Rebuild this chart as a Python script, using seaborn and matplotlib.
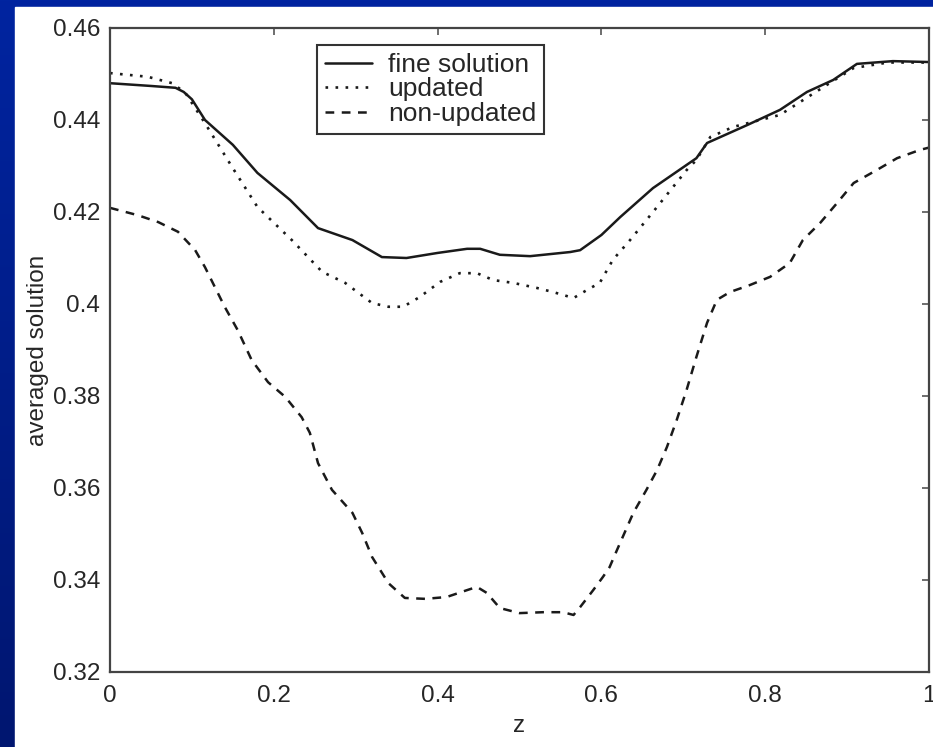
import numpy as np
import pandas as pd
import matplotlib
matplotlib.use('Agg')
import matplotlib.pyplot as plt
from matplotlib.patches import Rectangle
import seaborn as sns

# fine solution (solid)
z_fine = [0, 0.05, 0.08, 0.09, 0.1, 0.116, 0.15, 0.18, 0.22, 0.254, 0.296, 0.332,
          0.362, 0.40, 0.436, 0.452, 0.476, 0.513, 0.562, 0.574, 0.60, 0.623, 0.663,
          0.716, 0.729, 0.778, 0.818, 0.851, 0.883, 0.912, 0.956, 1.0]
fine = [0.448, 0.4474, 0.447, 0.4461, 0.4445, 0.440, 0.4346, 0.4285, 0.4226, 0.4165,
        0.4139, 0.4102, 0.410, 0.4111, 0.412, 0.412, 0.4107, 0.4104, 0.4113, 0.4117,
        0.415, 0.4189, 0.4252, 0.4317, 0.435, 0.4389, 0.4422, 0.4461, 0.4487, 0.4522,
        0.4528, 0.4526]

# updated (dotted)
z_upd = [0, 0.046, 0.076, 0.092, 0.116, 0.149, 0.18, 0.222, 0.259, 0.287, 0.32, 0.34,
         0.358, 0.378, 0.403, 0.427, 0.448, 0.468, 0.492, 0.521, 0.541, 0.566, 0.582,
         0.598, 0.614, 0.635, 0.663, 0.704, 0.716, 0.733, 0.761, 0.785, 0.818, 0.846,
         0.875, 0.908, 0.95, 1.0]
updated = [0.4502, 0.4494, 0.448, 0.4459, 0.4393, 0.4298, 0.4211, 0.4139, 0.407, 0.4046,
           0.4002, 0.3994, 0.3994, 0.4015, 0.4048, 0.4067, 0.4067, 0.4052, 0.4046, 0.4035,
           0.4026, 0.4013, 0.4030, 0.4046, 0.4096, 0.4139, 0.420, 0.4291, 0.4313, 0.4363,
           0.4385, 0.4396, 0.4411, 0.4443, 0.4476, 0.4513, 0.4525, 0.4525]

# non-updated (dashed)
z_non = [0, 0.034, 0.059, 0.083, 0.104, 0.116, 0.128, 0.14, 0.156, 0.173, 0.193, 0.214,
         0.234, 0.244, 0.254, 0.271, 0.296, 0.308, 0.32, 0.34, 0.36, 0.385, 0.411, 0.436,
         0.448, 0.46, 0.476, 0.5, 0.529, 0.553, 0.566, 0.574, 0.59, 0.602, 0.61, 0.619,
         0.639, 0.655, 0.668, 0.68, 0.692, 0.704, 0.716, 0.729, 0.741, 0.757, 0.781,
         0.806, 0.83, 0.846, 0.867, 0.888, 0.908, 0.936, 0.961, 0.989, 1.0]
non_updated = [0.4209, 0.4193, 0.4178, 0.4157, 0.4117, 0.408, 0.4037, 0.3994, 0.3943,
               0.3878, 0.383, 0.3798, 0.3754, 0.372, 0.3654, 0.3596, 0.3546, 0.3502,
               0.345, 0.3393, 0.3361, 0.3359, 0.3363, 0.3378, 0.3385, 0.3372, 0.3339,
               0.3328, 0.333, 0.333, 0.3324, 0.3341, 0.3378, 0.3407, 0.3428, 0.3465,
               0.3546, 0.3596, 0.3639, 0.3689, 0.3748, 0.3813, 0.3885, 0.3959, 0.4009,
               0.4026, 0.4041, 0.4059, 0.4089, 0.4139, 0.4176, 0.422, 0.4263, 0.4291,
               0.4317, 0.4335, 0.434]

x_ticks = [0, 0.2, 0.4, 0.6, 0.8, 1]
y_ticks = [0.32, 0.34, 0.36, 0.38, 0.40, 0.42, 0.44, 0.46]

sns.set_style("white")
plt.rcParams['font.family'] = ['Liberation Sans', 'DejaVu Sans']

W, H = 933, 747
fig = plt.figure(figsize=(W / 100, H / 100), dpi=100)

# slide background: blue gradient with white panel
bg = fig.add_axes([0, 0, 1, 1], zorder=-10)
top = np.array([0, 36, 160]) / 255
bot = np.array([0, 22, 112]) / 255
t = np.linspace(0, 1, 256)[:, None]
grad = (top * (1 - t) + bot * t)[:, None, :]
bg.imshow(grad, aspect='auto', extent=[0, 1, 0, 1])
bg.add_patch(Rectangle((15 / W, 0), 1, (H - 7) / H, color='white'))
bg.set_xlim(0, 1)
bg.set_ylim(0, 1)
bg.axis('off')

ax = fig.add_axes([110 / W, (H - 672) / H, (929 - 110) / W, (672 - 28) / H])
ax.set_facecolor('white')

sns.lineplot(x=z_fine, y=fine, ax=ax, color='#1a1a1a', linewidth=1.8,
             label='fine solution', sort=False)
sns.lineplot(x=z_upd, y=updated, ax=ax, color='#1a1a1a', linewidth=1.9,
             linestyle=(0, (1, 2.8)), label='updated', sort=False)
sns.lineplot(x=z_non, y=non_updated, ax=ax, color='#1a1a1a', linewidth=1.8,
             linestyle=(0, (3.5, 3)), label='non-updated', sort=False)

fs = 17.5
ax.set_xlim(0, 1)
ax.set_ylim(0.32, 0.46)
ax.set_xticks(x_ticks)
ax.set_xticklabels(['%g' % v for v in x_ticks])
ax.set_yticks(y_ticks)
ax.set_yticklabels(['%g' % v for v in y_ticks])
ax.tick_params(direction='in', length=5, width=1.2, color='#555555',
               top=True, right=True, labelsize=fs, pad=7)
ax.tick_params(axis='x', pad=9)
for s in ax.spines.values():
    s.set_color('#444444')
    s.set_linewidth(1.6)

ax.set_xlabel('z', fontsize=fs, labelpad=6)
ax.set_ylabel('averaged solution', fontsize=fs, labelpad=3)

leg = ax.legend(loc='upper left', bbox_to_anchor=(0.2527, 0.9736), borderaxespad=0,
                fontsize=19, frameon=True, fancybox=False, framealpha=1,
                edgecolor='#333333', handlelength=1.8, handletextpad=0.6,
                labelspacing=0.02, borderpad=0.3)
leg.get_frame().set_linewidth(1.5)

fig.savefig('out.png', dpi=100)
